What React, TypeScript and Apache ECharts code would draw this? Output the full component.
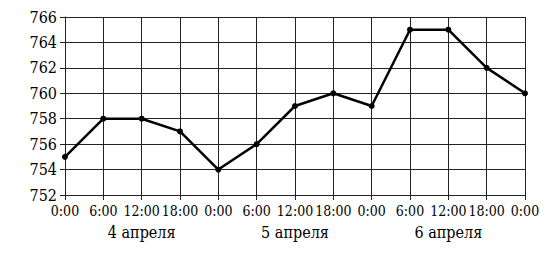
import React, { useEffect, useRef } from "react";
import * as echarts from "echarts";

const times = ["0:00", "6:00", "12:00", "18:00", "0:00", "6:00", "12:00", "18:00", "0:00", "6:00", "12:00", "18:00", "0:00"];
const pressure = [755, 758, 758, 757, 754, 756, 759, 760, 759, 765, 765, 762, 760];
const dayLabels = ["", "", "4 апреля", "", "", "", "5 апреля", "", "", "", "6 апреля", "", ""];

export default function App() {
  const ref = useRef<HTMLDivElement>(null);
  useEffect(() => {
    if (!ref.current) return;
    const chart = echarts.init(ref.current, null, { renderer: "svg" });
    const font = "DejaVu Serif Condensed";
    chart.setOption({
      animation: false,
      backgroundColor: "#fff",
      textStyle: { fontFamily: font },
      grid: { left: 65, right: 27, top: 17, bottom: 63, containLabel: false },
      xAxis: [
        {
          type: "category",
          data: times,
          boundaryGap: false,
          axisLine: { show: true, lineStyle: { color: "#222", width: 1 } },
          axisTick: { show: true, length: 5, interval: 0, lineStyle: { color: "#222" } },
          axisLabel: { interval: 0, color: "#000", fontFamily: font, fontSize: 14, margin: 9 },
          splitLine: { show: true, interval: 0, lineStyle: { color: "#222", width: 1 } },
        },
        {
          type: "category",
          data: dayLabels,
          position: "bottom",
          boundaryGap: false,
          gridIndex: 0,
          axisLine: { show: false },
          axisTick: { show: false },
          splitLine: { show: false },
          axisLabel: { interval: 0, color: "#000", fontFamily: font, fontSize: 16, margin: 29 },
        },
      ],
      yAxis: {
        type: "value",
        min: 752,
        max: 766,
        interval: 2,
        axisLine: { show: true, lineStyle: { color: "#222", width: 1 } },
        axisTick: { show: true, length: 5, lineStyle: { color: "#222" } },
        axisLabel: { color: "#000", fontFamily: font, fontSize: 16, margin: 8 },
        splitLine: { show: true, lineStyle: { color: "#222", width: 1 } },
      },
      series: [
        {
          type: "line",
          data: pressure,
          xAxisIndex: 0,
          symbol: "circle",
          symbolSize: 6,
          lineStyle: { color: "#000", width: 2.5 },
          itemStyle: { color: "#000" },
        },
      ],
    });
    return () => chart.dispose();
  }, []);
  return <div ref={ref} style={{ width: 552, height: 258, position: "absolute", left: 0, top: 0 }} />;
}
